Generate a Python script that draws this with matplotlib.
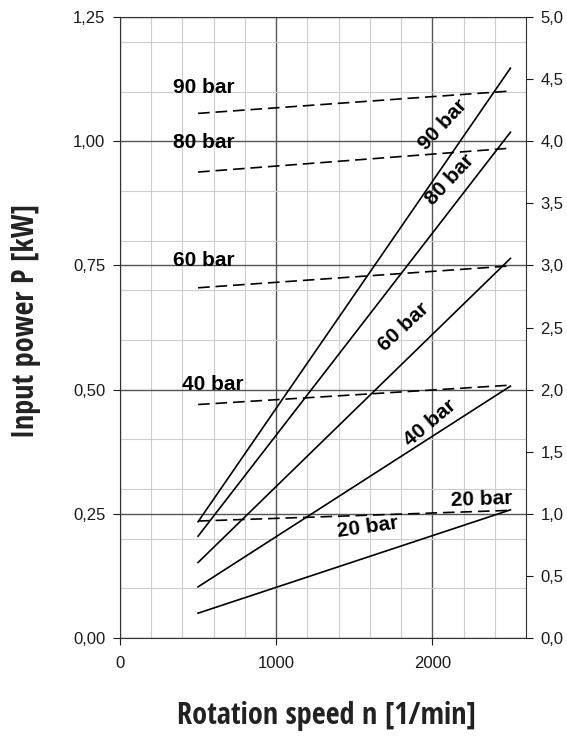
import matplotlib
matplotlib.use('Agg')
import matplotlib.pyplot as plt
from matplotlib.ticker import MultipleLocator, FuncFormatter

# 数据
drehzahl = [500, 2500]
druck = ['20 bar', '40 bar', '60 bar', '80 bar', '90 bar']
leistung_start = [0.050, 0.103, 0.152, 0.205, 0.234]   # kW, durchgezogen
leistung_ende = [0.258, 0.507, 0.764, 1.018, 1.147]
strich_start = [0.2355, 0.470, 0.705, 0.938, 1.056]     # gestrichelt (linke Achse)
strich_ende = [0.257, 0.509, 0.749, 0.986, 1.101]

# Beschriftungen: Text, x, y, Winkel
lab_text = ['90 bar', '80 bar', '60 bar', '40 bar',
            '90 bar', '80 bar', '60 bar', '40 bar', '20 bar', '20 bar']
lab_x = [534, 534, 540, 592, 2067, 2113, 1819, 1985, 1588, 2318]
lab_y = [1.109, 0.997, 0.759, 0.511, 1.033, 0.922, 0.626, 0.433, 0.223, 0.278]
lab_rot = [0, 0, 0, 0, 47, 47, 43, 40, 8, 2]

fig = plt.figure(figsize=(5.67, 7.40), dpi=100)
ax = fig.add_axes([0.2116, 0.1378, 0.7161, 0.8392])
ax.set_xlim(0, 2600)
ax.set_ylim(0, 1.25)

ax.xaxis.set_major_locator(MultipleLocator(1000))
ax.xaxis.set_minor_locator(MultipleLocator(200))
ax.yaxis.set_major_locator(MultipleLocator(0.25))
ax.yaxis.set_minor_locator(MultipleLocator(0.1))
ax.grid(which='minor', color='#cccccc', lw=0.8)
ax.grid(which='major', color='#555555', lw=1.0)
ax.set_axisbelow(True)
ax.tick_params(which='minor', length=0)
ax.tick_params(which='major', length=5, width=0.8, labelsize=12, colors='#1a1a1a')
ax.tick_params(axis='y', pad=5.5)
ax.tick_params(axis='x', pad=8)
ax.yaxis.set_major_formatter(FuncFormatter(lambda v, p: ('%.2f' % v).replace('.', ',')))
for s in ax.spines.values():
    s.set_color('#333333')
    s.set_linewidth(0.8)

for i in range(len(druck)):
    ax.plot(drehzahl, [leistung_start[i], leistung_ende[i]], color='black', lw=1.2)
    ax.plot(drehzahl, [strich_start[i], strich_ende[i]], color='black', lw=1.2,
            dashes=(7, 3.5))

for t, x, y, r in zip(lab_text, lab_x, lab_y, lab_rot):
    ax.text(x, y, t, fontsize=15, fontweight='bold', family=['Liberation Sans', 'DejaVu Sans'],
            ha='center', va='center', rotation=r, rotation_mode='anchor')

ax2 = ax.twinx()
ax2.set_ylim(0, 5.0)
ax2.yaxis.set_major_locator(MultipleLocator(0.5))
ax2.yaxis.set_major_formatter(FuncFormatter(lambda v, p: ('%.1f' % v).replace('.', ',')))
ax2.tick_params(length=5, width=0.8, labelsize=12, colors='#1a1a1a', pad=5.5)
for s in ax2.spines.values():
    s.set_visible(False)

for lab in ax.get_xticklabels() + ax.get_yticklabels() + ax2.get_yticklabels():
    lab.set_family(['Liberation Sans', 'DejaVu Sans'])

fig.text(0.045, 0.566, 'Input power P [kW]', rotation=90, ha='center', va='center',
         fontsize=21.7, fontweight='bold', family=['Open Sans Condensed', 'DejaVu Sans'],
         color='#222222')
fig.text(0.576, 0.032, 'Rotation speed n [1/min]', ha='center', va='center',
         fontsize=21.7, fontweight='bold', family=['Open Sans Condensed', 'DejaVu Sans'],
         color='#222222')

fig.savefig('out.png', dpi=100)
